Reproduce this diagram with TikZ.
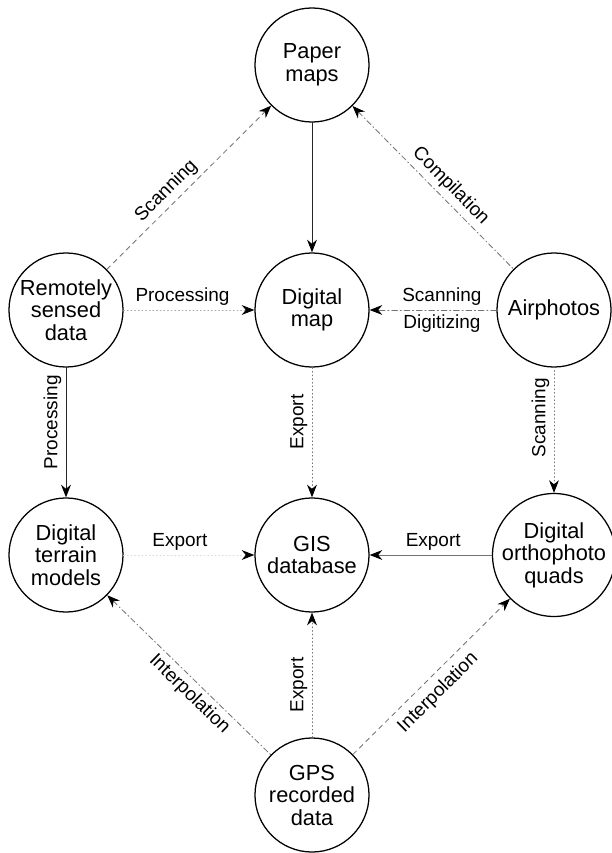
\documentclass[tikz,border=0pt]{standalone}
\usepackage{fontspec}
\setmainfont{Liberation Sans}
\usetikzlibrary{arrows.meta}

\begin{document}
\begin{tikzpicture}[
  x=0.025cm, y=-0.025cm,
  line cap=round, line join=round,
  >={Stealth[length=9pt, width=7pt, color=black]},
  source/.style={
    circle, draw=black, line width=0.9pt,
    minimum size=2.85cm, inner sep=0pt,
    align=center, font=\fontsize{15.5}{16}\selectfont
  },
  flow/.style={line width=0.6pt, draw=black!55},
  solidfl/.style={flow, draw=black!85},
  dashfl/.style={flow, dash pattern=on 3.5pt off 3pt},
  dotfl/.style={flow, dotted},
  dashdotfl/.style={flow, dash pattern=on 4pt off 2pt on 0.8pt off 2pt},
  flowlbl/.style={font=\fontsize{13.5}{15}\selectfont, inner sep=3pt}
]
\useasboundingbox (0,0) rectangle (611,853);

% =========================================================================
% Data sources and products
% =========================================================================
\node[source] (paper)    at (312,  65) {Paper\\maps};
\node[source] (remote)   at ( 66, 310) {Remotely\\sensed\\data};
\node[source] (digmap)   at (312, 310) {Digital\\map};
\node[source] (airphoto) at (554, 310) {Airphotos};
\node[source] (dtm)      at ( 66, 555) {Digital\\terrain\\models};
\node[source] (gis)      at (312, 555) {GIS\\database};
\node[source] (doq)      at (554, 555) {Digital\\orthophoto\\quads};
\node[source] (gps)      at (312, 795) {GPS\\recorded\\data};

% =========================================================================
% Flows
% =========================================================================
% Remotely sensed data -> Paper maps
\draw[dashfl, ->] (remote) -- node[flowlbl, sloped, above, pos=0.42] {Scanning} (paper);

% Airphotos -> Paper maps
\draw[dashdotfl, <-] (paper) -- node[flowlbl, sloped, above, pos=0.55] {Compilation} (airphoto);

% Paper maps -> Digital map
\draw[solidfl, ->] (paper) -- (digmap);

% Remotely sensed data -> Digital map
\draw[dotfl, ->, draw=black!35] (remote) -- node[flowlbl, above, pos=0.45] {Processing} (digmap);

% Airphotos -> Digital map
\draw[dashdotfl, ->] (airphoto) --
  node[flowlbl, above, pos=0.43] {Scanning}
  node[flowlbl, below, pos=0.43] {Digitizing} (digmap);

% Remotely sensed data -> Digital terrain models
\draw[solidfl, <-] (dtm) -- node[flowlbl, sloped, above, pos=0.58] {Processing} (remote);

% Digital map -> GIS database
\draw[dotfl, <-] (gis) -- node[flowlbl, sloped, above, pos=0.58] {Export} (digmap);

% Airphotos -> Digital orthophoto quads
\draw[dotfl, <-] (doq) -- node[flowlbl, sloped, above, pos=0.6] {Scanning} (airphoto);

% Digital terrain models -> GIS database
\draw[dotfl, ->, draw=black!15] (dtm) -- node[flowlbl, above, pos=0.43] {Export} (gis);

% Digital orthophoto quads -> GIS database
\draw[flow, ->] (doq) -- node[flowlbl, above, pos=0.48] {Export} (gis);

% GPS recorded data -> Digital terrain models
\draw[dashdotfl, <-] (dtm) -- node[flowlbl, sloped, below, pos=0.56] {Interpolation} (gps);

% GPS recorded data -> Digital orthophoto quads
\draw[dashfl, ->] (gps) -- node[flowlbl, sloped, below=2pt, pos=0.47] {Interpolation} (doq);

% GPS recorded data -> GIS database
\draw[dotfl, ->] (gps) -- node[flowlbl, sloped, above, pos=0.42] {Export} (gis);

\end{tikzpicture}
\end{document}
